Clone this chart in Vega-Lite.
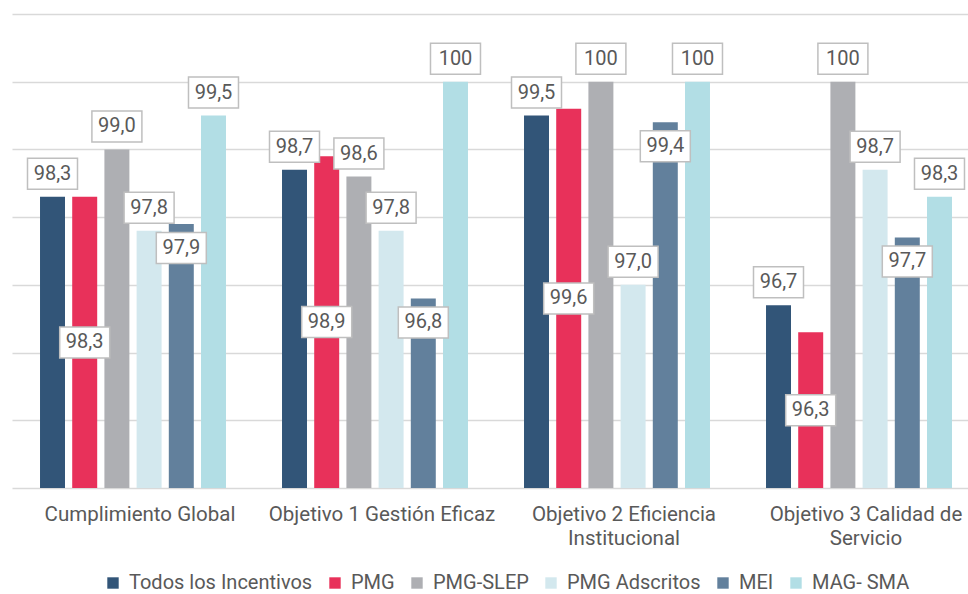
{
  "$schema": "https://vega.github.io/schema/vega-lite/v6.json",
  "width": 956,
  "height": 474,
  "autosize": {"type": "none"},
  "padding": {"left": 12, "top": 14, "right": 0, "bottom": 106},
  "background": "white",
  "config": {"font": "Roboto", "view": {"stroke": null}},
  "data": {
    "values": [
      {"category": "Cumplimiento Global", "series": "Todos los Incentivos", "value": 98.3},
      {"category": "Cumplimiento Global", "series": "PMG", "value": 98.3},
      {"category": "Cumplimiento Global", "series": "PMG-SLEP", "value": 99.0},
      {"category": "Cumplimiento Global", "series": "PMG Adscritos", "value": 97.8},
      {"category": "Cumplimiento Global", "series": "MEI", "value": 97.9},
      {"category": "Cumplimiento Global", "series": "MAG- SMA", "value": 99.5},
      {"category": "Objetivo 1 Gestión Eficaz", "series": "Todos los Incentivos", "value": 98.7},
      {"category": "Objetivo 1 Gestión Eficaz", "series": "PMG", "value": 98.9},
      {"category": "Objetivo 1 Gestión Eficaz", "series": "PMG-SLEP", "value": 98.6},
      {"category": "Objetivo 1 Gestión Eficaz", "series": "PMG Adscritos", "value": 97.8},
      {"category": "Objetivo 1 Gestión Eficaz", "series": "MEI", "value": 96.8},
      {"category": "Objetivo 1 Gestión Eficaz", "series": "MAG- SMA", "value": 100},
      {"category": "Objetivo 2 Eficiencia Institucional", "series": "Todos los Incentivos", "value": 99.5},
      {"category": "Objetivo 2 Eficiencia Institucional", "series": "PMG", "value": 99.6},
      {"category": "Objetivo 2 Eficiencia Institucional", "series": "PMG-SLEP", "value": 100},
      {"category": "Objetivo 2 Eficiencia Institucional", "series": "PMG Adscritos", "value": 97.0},
      {"category": "Objetivo 2 Eficiencia Institucional", "series": "MEI", "value": 99.4},
      {"category": "Objetivo 2 Eficiencia Institucional", "series": "MAG- SMA", "value": 100},
      {"category": "Objetivo 3 Calidad de Servicio", "series": "Todos los Incentivos", "value": 96.7},
      {"category": "Objetivo 3 Calidad de Servicio", "series": "PMG", "value": 96.3},
      {"category": "Objetivo 3 Calidad de Servicio", "series": "PMG-SLEP", "value": 100},
      {"category": "Objetivo 3 Calidad de Servicio", "series": "PMG Adscritos", "value": 98.7},
      {"category": "Objetivo 3 Calidad de Servicio", "series": "MEI", "value": 97.7},
      {"category": "Objetivo 3 Calidad de Servicio", "series": "MAG- SMA", "value": 98.3}
    ]
  },
  "transform": [
    {"calculate": "datum.value == 100 ? '100' : replace(format(datum.value, '.1f'), '.', ',')", "as": "label"},
    {"calculate": "(datum.value + 94) / 2", "as": "mid"}
  ],
  "encoding": {
    "x": {
      "field": "category",
      "type": "nominal",
      "sort": ["Cumplimiento Global", "Objetivo 1 Gestión Eficaz", "Objetivo 2 Eficiencia Institucional", "Objetivo 3 Calidad de Servicio"],
      "scale": {"range": [0, 968], "paddingInner": 0, "paddingOuter": 0},
      "axis": {
        "title": null,
        "domain": false,
        "ticks": false,
        "labelAngle": 0,
        "labelFontSize": 20.5,
        "labelColor": "#595959",
        "labelPadding": 16,
        "labelLineHeight": 24,
        "labelOffset": 7,
        "labelLimit": 400,
        "labelExpr": "datum.value == 'Objetivo 2 Eficiencia Institucional' ? ['Objetivo 2 Eficiencia', 'Institucional'] : datum.value == 'Objetivo 3 Calidad de Servicio' ? ['Objetivo 3 Calidad de', 'Servicio'] : datum.value"
      }
    },
    "xOffset": {
      "field": "series",
      "type": "nominal",
      "sort": ["Todos los Incentivos", "PMG", "PMG-SLEP", "PMG Adscritos", "MEI", "MAG- SMA"],
      "scale": {"paddingInner": 0.224, "paddingOuter": 0.87}
    }
  },
  "layer": [
    {
      "mark": {"type": "bar"},
      "encoding": {
        "y": {
          "field": "value",
          "type": "quantitative",
          "scale": {"domain": [94, 101], "zero": false, "nice": false},
          "axis": {
            "title": null,
            "values": [94, 95, 96, 97, 98, 99, 100, 101],
            "labels": false,
            "ticks": false,
            "domain": false,
            "grid": true,
            "gridColor": "#D9D9D9",
            "gridWidth": 1.5
          }
        },
        "y2": {"datum": 94},
        "color": {
          "field": "series",
          "type": "nominal",
          "scale": {
            "domain": ["Todos los Incentivos", "PMG", "PMG-SLEP", "PMG Adscritos", "MEI", "MAG- SMA"],
            "range": ["#325578", "#E8315A", "#AEAFB3", "#D3E8EE", "#62809C", "#B2DEE5"]
          },
          "legend": {
            "orient": "none",
            "legendX": 91,
            "legendY": 559,
            "padding": 0,
            "direction": "horizontal",
            "title": null,
            "symbolType": "square",
            "symbolSize": 130,
            "symbolStrokeWidth": 0,
            "labelFontSize": 20,
            "labelColor": "#595959",
            "labelOffset": 6,
            "columnPadding": 12,
            "labelLimit": 400
          }
        }
      }
    },
    {
      "transform": [{"filter": {"field": "series", "oneOf": ["Todos los Incentivos", "PMG-SLEP", "PMG Adscritos", "MAG- SMA"]}}],
      "encoding": {"y": {"field": "value", "type": "quantitative"}},
      "layer": [
        {"mark": {"type": "point", "shape": "M-1,-0.62H1V0.62H-1Z", "size": 2500, "filled": true, "fill": "white", "stroke": "#BFBFBF", "strokeWidth": 1.5, "opacity": 1, "yOffset": -23}},
        {"mark": {"type": "text", "fontSize": 20, "fill": "#595959", "align": "center", "baseline": "middle", "yOffset": -23}, "encoding": {"text": {"field": "label"}}}
      ]
    },
    {
      "transform": [{"filter": {"field": "series", "equal": "MEI"}}],
      "encoding": {"y": {"field": "value", "type": "quantitative"}},
      "layer": [
        {"mark": {"type": "point", "shape": "M-1,-0.62H1V0.62H-1Z", "size": 2500, "filled": true, "fill": "white", "stroke": "#BFBFBF", "strokeWidth": 1.5, "opacity": 1, "yOffset": 24}},
        {"mark": {"type": "text", "fontSize": 20, "fill": "#595959", "align": "center", "baseline": "middle", "yOffset": 24}, "encoding": {"text": {"field": "label"}}}
      ]
    },
    {
      "transform": [{"filter": {"field": "series", "equal": "PMG"}}],
      "encoding": {"y": {"field": "mid", "type": "quantitative"}},
      "layer": [
        {"mark": {"type": "point", "shape": "M-1,-0.62H1V0.62H-1Z", "size": 2500, "filled": true, "fill": "white", "stroke": "#BFBFBF", "strokeWidth": 1.5, "opacity": 1}},
        {"mark": {"type": "text", "fontSize": 20, "fill": "#595959", "align": "center", "baseline": "middle"}, "encoding": {"text": {"field": "label"}}}
      ]
    }
  ]
}
